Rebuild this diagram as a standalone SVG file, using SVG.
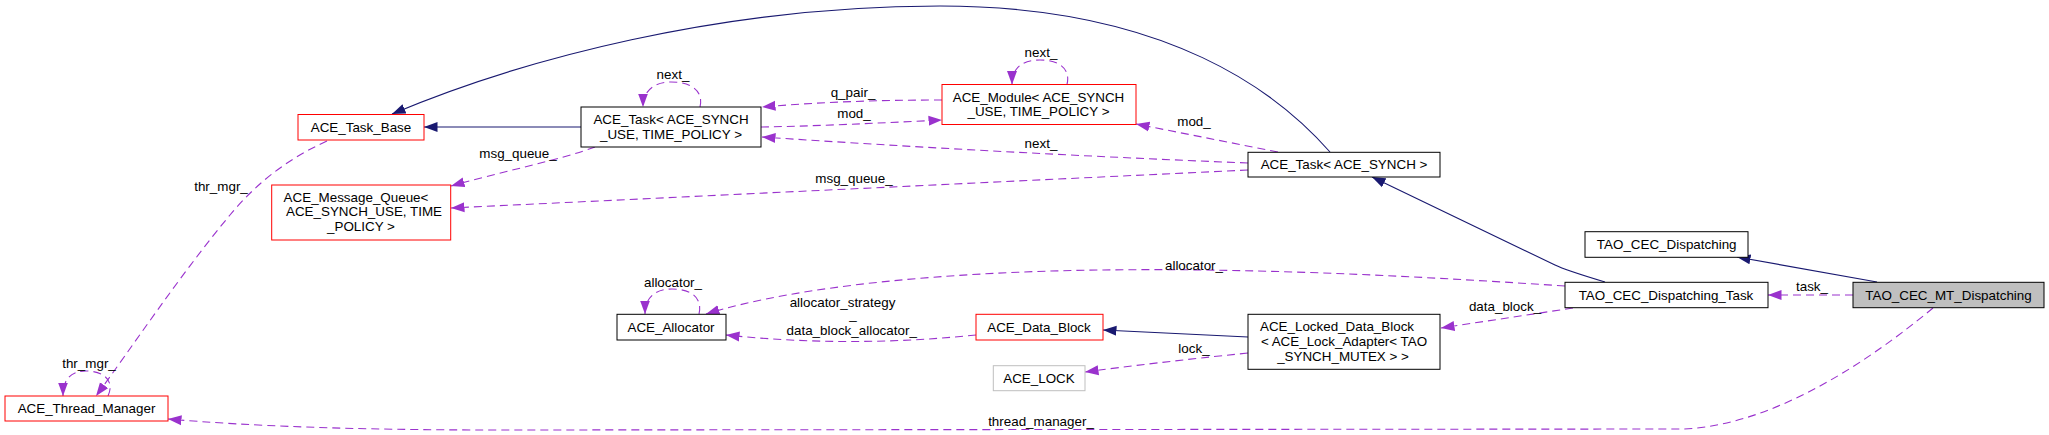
<svg xmlns="http://www.w3.org/2000/svg" width="2049" height="435" viewBox="0 0 2049 435">
<style>
text{font-family:"Liberation Sans",Arial,sans-serif;font-size:13.4px;fill:#000;text-anchor:middle}
.n{fill:#fff;stroke:#000;stroke-width:1}
.r{fill:#fff;stroke:#ff0000;stroke-width:1}
.g{fill:#fff;stroke:#bfbfbf;stroke-width:1}
.cur{fill:#bfbfbf;stroke:#000;stroke-width:1}
.b{fill:none;stroke:#191970;stroke-width:1.1;marker-end:url(#ab)}
.p{fill:none;stroke:#9a32cd;stroke-width:1.1;stroke-dasharray:8,5;marker-end:url(#ap)}
</style>
<defs>
<marker id="ab" markerUnits="userSpaceOnUse" markerWidth="14" markerHeight="11" viewBox="0 0 14 11" refX="13.5" refY="5.5" orient="auto"><path d="M0,0.5 L13.5,5.5 L0,10.5 z" fill="#191970"/></marker>
<marker id="ap" markerUnits="userSpaceOnUse" markerWidth="14" markerHeight="11" viewBox="0 0 14 11" refX="13.5" refY="5.5" orient="auto"><path d="M0,0.5 L13.5,5.5 L0,10.5 z" fill="#9a32cd"/></marker>
</defs>
<rect width="2049" height="435" fill="#fff"/>
<g id="connectors">
<path class="b" d="M581,127 L424,127"/>
<path class="b" d="M1330,152 C1280,95 1170,6 940,6 C720,6 520,60 392,114"/>
<path class="b" d="M1605,282 C1585,276 1565,270 1555,265 L1372,177"/>
<path class="b" d="M1248,337 L1103,330"/>
<path class="b" d="M1877,282 L1737,257"/>
<path class="p" d="M327,141 C285,160 255,185 230,215 C180,275 130,350 96,396"/>
<text x="221" y="191">thr_mgr_</text>
<path class="p" d="M108,396 C116,378 100,371 86,371 C72,371 63,378 63,396"/>
<text x="89" y="367.7">thr_mgr_</text>
<path class="p" d="M700,107 C704,90 690,82 671,82 C655,82 643,90 643,107"/>
<text x="673" y="79">next_</text>
<path class="p" d="M1067,84.5 C1071,68 1058,60 1040,60 C1022,60 1012,68 1012,84.5"/>
<text x="1041" y="57">next_</text>
<path class="p" d="M699,314 C703,297 690,289 672,289 C656,289 645,297 645,314"/>
<text x="673" y="286.5">allocator_</text>
<path class="p" d="M942,100 C880,100 820,102 762,107"/>
<text x="853" y="97">q_pair_</text>
<path class="p" d="M761,127 C820,126 880,123 942,120"/>
<text x="854" y="118">mod_</text>
<path class="p" d="M1278,152 L1136,124"/>
<text x="1194" y="126">mod_</text>
<path class="p" d="M1248,163 Q1000,153 762,137"/>
<text x="1041" y="148">next_</text>
<path class="p" d="M595,147 C560,160 500,172 451,186"/>
<text x="518" y="158">msg_queue_</text>
<path class="p" d="M1248,170 L451,208"/>
<text x="854" y="183">msg_queue_</text>
<path class="p" d="M1565,286 C1400,275 1250,268 1100,270 C950,272 800,285 706,314"/>
<text x="1194" y="269.5">allocator_</text>
<path class="p" d="M976,335 Q850,348 726,335"/>
<text x="842.5" y="307">allocator_strategy</text>
<text x="853" y="319">_</text>
<text x="851.7" y="335.4">data_block_allocator_</text>
<path class="p" d="M1573,308 L1441,328"/>
<text x="1505" y="311.4">data_block_</text>
<path class="p" d="M1853,295 L1768,295"/>
<text x="1812" y="291.4">task_</text>
<path class="p" d="M1248,353 C1180,360 1130,366 1085,372"/>
<text x="1194" y="353">lock_</text>
<path class="p" d="M1933,308 C1900,335 1790,425 1683,429 L500,430 C350,430 250,426 168,419"/>
<text x="1041" y="426">thread_manager_</text>
</g>
<g id="ACE_Task_Base"><rect class="r" x="298" y="114.5" width="126" height="25.5"/><text x="361" y="132">ACE_Task_Base</text></g>
<g id="ACE_Task_USE"><rect class="n" x="581" y="107" width="180" height="40"/><text x="671" y="123.7">ACE_Task&lt; ACE_SYNCH</text><text x="671" y="138.7">_USE, TIME_POLICY &gt;</text></g>
<g id="ACE_Module"><rect class="r" x="942" y="84.5" width="194" height="40"/><text x="1038.5" y="101.5">ACE_Module&lt; ACE_SYNCH</text><text x="1038.5" y="116">_USE, TIME_POLICY &gt;</text></g>
<g id="ACE_Message_Queue"><rect class="r" x="271.7" y="185" width="179" height="55"/><text x="356" y="202">ACE_Message_Queue&lt;</text><text x="364" y="216.4">ACE_SYNCH_USE, TIME</text><text x="361" y="231.4">_POLICY &gt;</text></g>
<g id="ACE_Task_SYNCH"><rect class="n" x="1248" y="152.3" width="192" height="24.7"/><text x="1344" y="169.4">ACE_Task&lt; ACE_SYNCH &gt;</text></g>
<g id="TAO_CEC_Dispatching"><rect class="n" x="1585" y="231.7" width="163" height="25.6"/><text x="1666.7" y="249.2">TAO_CEC_Dispatching</text></g>
<g id="TAO_CEC_Dispatching_Task"><rect class="n" x="1565" y="282.3" width="203" height="25.4"/><text x="1666" y="299.7">TAO_CEC_Dispatching_Task</text></g>
<g id="TAO_CEC_MT_Dispatching"><rect class="cur" x="1853" y="282.3" width="191" height="25.4"/><text x="1948.5" y="299.7">TAO_CEC_MT_Dispatching</text></g>
<g id="ACE_Allocator"><rect class="n" x="617" y="314.3" width="109" height="25.7"/><text x="671" y="331.8">ACE_Allocator</text></g>
<g id="ACE_Data_Block"><rect class="r" x="976" y="314.3" width="127" height="25.7"/><text x="1039" y="331.8">ACE_Data_Block</text></g>
<g id="ACE_Locked_Data_Block"><rect class="n" x="1248" y="314.3" width="192" height="55"/><text x="1337" y="331.4">ACE_Locked_Data_Block</text><text x="1344" y="346.4">&lt; ACE_Lock_Adapter&lt; TAO</text><text x="1343" y="361.4">_SYNCH_MUTEX &gt; &gt;</text></g>
<g id="ACE_LOCK"><rect class="g" x="993.3" y="365.7" width="91.7" height="25"/><text x="1039" y="382.9">ACE_LOCK</text></g>
<g id="ACE_Thread_Manager"><rect class="r" x="5" y="396" width="163" height="25"/><text x="86.5" y="413.2">ACE_Thread_Manager</text></g>
</svg>
